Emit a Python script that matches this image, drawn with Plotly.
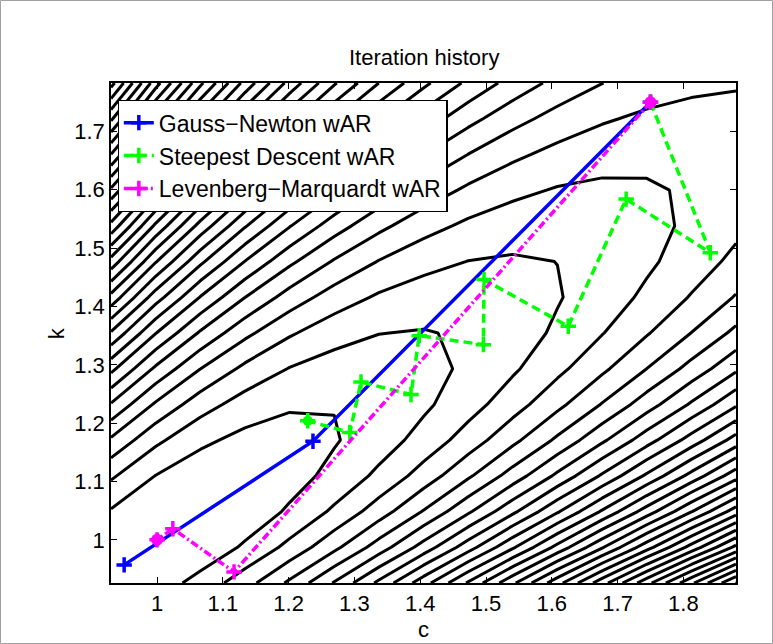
import numpy as np
import plotly.graph_objects as go

# ---- model behind the contour field (spring-mass-dashpot parameter fit) ----
c_true, k_true = 1.0, 1.0          # parameters that generated the data
t_final, n_obs = 10.0, 100         # observation window and number of samples
c_grid = np.linspace(0.93, 1.88, 15)
k_grid = np.linspace(0.926, 1.783, 15)
level_tip_c, level_tip_k = 1.284, 1.18   # point on the innermost contour

# ---- iteration histories ----
gn_c = [1.75, 1.237, 0.95]
gn_k = [1.75, 1.169, 0.957]
sd_c = [1.75, 1.841, 1.713, 1.625, 1.497, 1.496, 1.3985, 1.386, 1.31, 1.293, 1.229]
sd_k = [1.75, 1.492, 1.584, 1.366, 1.446, 1.3345, 1.35, 1.249, 1.2705, 1.184, 1.204]
lm_c = [1.75, 1.117, 1.024, 1.0]
lm_k = [1.75, 0.945, 1.019, 1.0]

x_ticks = [1, 1.1, 1.2, 1.3, 1.4, 1.5, 1.6, 1.7, 1.8]
y_ticks = [1, 1.1, 1.2, 1.3, 1.4, 1.5, 1.6, 1.7]

t_obs = np.arange(1, n_obs + 1) * t_final / n_obs


def response(c, k):
    c = np.asarray(c, float)[..., None]
    k = np.asarray(k, float)[..., None]
    w = np.sqrt(k - c**2 / 4)
    return np.exp(-c * t_obs / 2) * (np.cos(w * t_obs) + c / (2 * w) * np.sin(w * t_obs))


data = response(c_true, k_true)


def objective(c, k):
    return 0.5 * np.sum((response(c, k) - data) ** 2, axis=-1)


CC, KK = np.meshgrid(c_grid, k_grid)
Z = objective(CC, KK)
step = float(objective(level_tip_c, level_tip_k))

FONT = "Liberation Sans, Arial, Helvetica, sans-serif"
fig = go.Figure()
fig.add_trace(go.Contour(
    x=c_grid, y=k_grid, z=Z, showscale=False, showlegend=False, hoverinfo="skip",
    contours=dict(start=step, end=float(Z.max()), size=step, coloring="lines"),
    colorscale=[[0, "black"], [1, "black"]],
    line=dict(width=3, smoothing=0)))

fig.add_trace(go.Scatter(
    x=gn_c, y=gn_k, mode="lines+markers", name="Gauss\u2212Newton wAR", legendgroup="a",
    line=dict(color="#0000ff", width=3.5),
    marker=dict(symbol="cross-thin", size=11, line=dict(color="#0000ff", width=3.5))))
fig.add_trace(go.Scatter(
    x=sd_c, y=sd_k, mode="lines+markers", name="Steepest Descent wAR", legendgroup="b",
    line=dict(color="#00ff00", width=3.5, dash="9px,5px"),
    marker=dict(symbol="cross-thin", size=11, line=dict(color="#00ff00", width=3.5))))
fig.add_trace(go.Scatter(
    x=lm_c, y=lm_k, mode="lines+markers", name="Levenberg\u2212Marquardt wAR", legendgroup="c",
    line=dict(color="#ff00ff", width=3.5, dash="8px,3px,2px,3px"),
    marker=dict(symbol="cross-thin", size=11, line=dict(color="#ff00ff", width=3.5))))
# circles marking the final iterates / starting point
fig.add_trace(go.Scatter(
    x=[sd_c[-1]], y=[sd_k[-1]], mode="markers", showlegend=False,
    marker=dict(symbol="circle", size=10, color="#00ff00")))
fig.add_trace(go.Scatter(
    x=[lm_c[0], lm_c[-1]], y=[lm_k[0], lm_k[-1]], mode="markers", showlegend=False,
    marker=dict(symbol="circle", size=12, color="#ff00ff")))

axis_common = dict(showgrid=False, zeroline=False, showline=True, linecolor="black", linewidth=1.5,
                   mirror="allticks", ticks="inside", ticklen=6, tickwidth=1, tickcolor="black",
                   tickfont=dict(family=FONT, size=22, color="black"))
fig.update_xaxes(range=[0.93, 1.88], tickvals=x_ticks, ticktext=[f"{v:g}" for v in x_ticks], **axis_common)
fig.update_yaxes(range=[0.926, 1.783], tickvals=y_ticks, ticktext=[f"{v:g}" for v in y_ticks], **axis_common)

fig.update_layout(
    width=773, height=644, margin=dict(l=111, r=37, t=83, b=61),
    plot_bgcolor="white", paper_bgcolor="white",
    font=dict(family=FONT, color="black"),
    legend=dict(x=0.0106, y=0.966, xanchor="left", yanchor="top", bgcolor="white",
                bordercolor="black", borderwidth=1.2, font=dict(family=FONT, size=23, color="black"),
                tracegroupgap=0),
    annotations=[
        dict(text="Iteration history", x=0.5, y=1.0506, xref="paper", yref="paper",
             showarrow=False, font=dict(family=FONT, size=22, color="black"), yanchor="middle"),
        dict(text="c", x=0.5, y=-0.092, xref="paper", yref="paper", showarrow=False,
             font=dict(family=FONT, size=22, color="black"), yanchor="middle"),
        dict(text="k", x=-0.0875, y=0.5, xref="paper", yref="paper", showarrow=False, textangle=-90,
             font=dict(family=FONT, size=22, color="black"), xanchor="center", yanchor="middle"),
    ],
    shapes=[dict(type="rect", xref="paper", yref="paper", x0=(0.5 - 111) / 625, x1=(772.5 - 111) / 625,
                 y0=(583 - 643.5) / 500, y1=(583 - 0.5) / 500, line=dict(color="#a0a0a0", width=1),
                 layer="below")],
)
fig.write_html("out.html", config={"displayModeBar": False},
               post_script="document.body.style.margin='0px';document.body.style.padding='0px';")
